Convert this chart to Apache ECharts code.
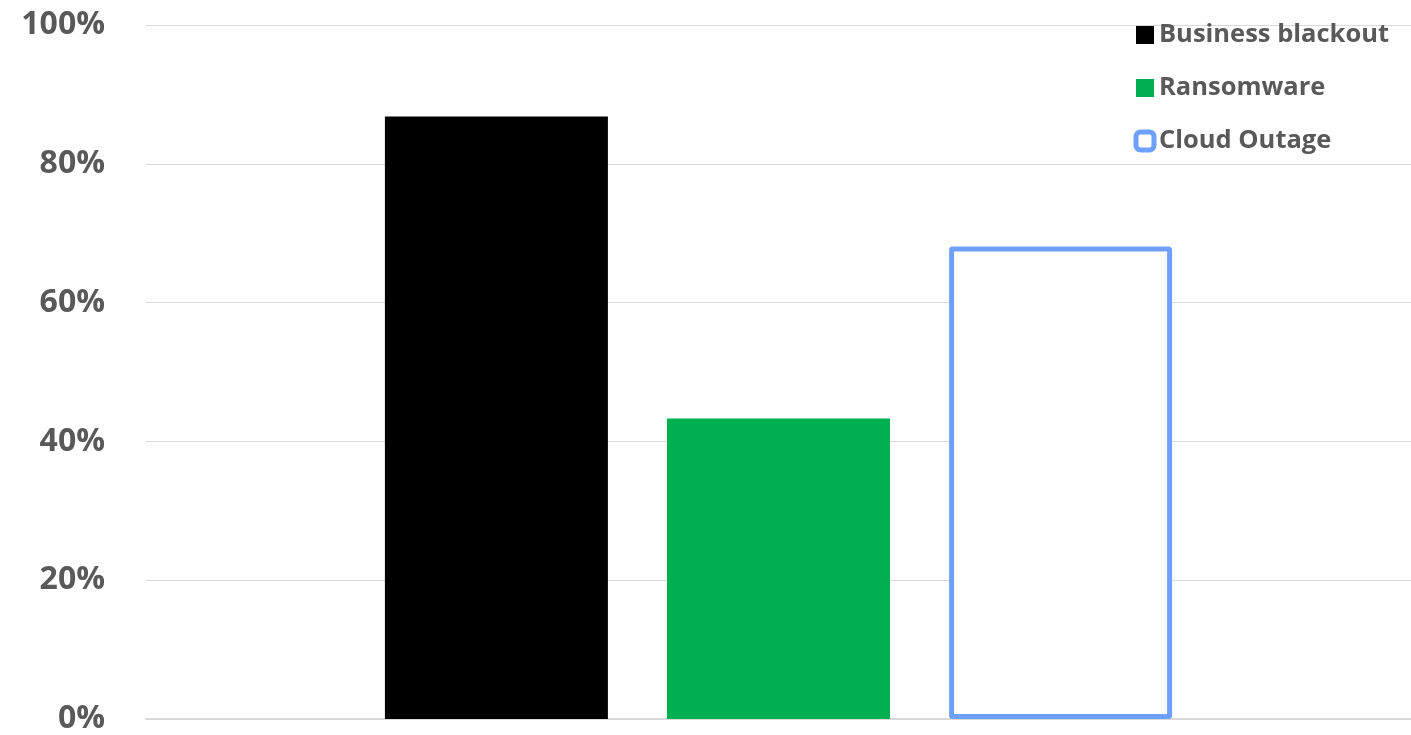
<!DOCTYPE html>
<html><head><meta charset="utf-8">
<script src="https://cdn.jsdelivr.net/npm/echarts@6/dist/echarts.min.js"></script>
<style>html,body{margin:0;padding:0;background:#fff}#c{width:1411px;height:735px}</style>
</head><body><div id="c"></div>
<script>
const categories = [''];
const seriesNames = ['Business blackout', 'Ransomware', 'Cloud Outage'];
const businessBlackout = [86.8];
const ransomware = [43.3];
const cloudOutage = [68.1];
const yTicks = [0, 20, 40, 60, 80, 100];

const chart = echarts.init(document.getElementById('c'));
const font = '"Open Sans", "Liberation Sans", sans-serif';
chart.setOption({
  animation: false,
  grid: {left: 146, right: 0, top: 25, bottom: 15, containLabel: false},
  legend: {
    orient: 'vertical', right: 17, top: 15, align: 'left',
    itemWidth: 18, itemHeight: 18, itemGap: 23,
    textStyle: {color: '#595959', fontWeight: 'bold', fontSize: 25.5, fontFamily: font, lineHeight: 30},
    data: [
      {name: seriesNames[0], icon: 'rect', itemStyle: {color: '#000000', borderWidth: 0}},
      {name: seriesNames[1], icon: 'rect', itemStyle: {color: '#00B050', borderWidth: 0}},
      {name: seriesNames[2], icon: 'roundRect', itemStyle: {color: '#ffffff', borderColor: '#6F9FFF', borderWidth: 5}}
    ]
  },
  xAxis: {
    type: 'category', data: categories,
    axisLine: {show: true, lineStyle: {color: '#d9d9d9', width: 2}},
    axisTick: {show: false}, axisLabel: {show: false}
  },
  yAxis: {
    type: 'value', min: yTicks[0], max: yTicks[yTicks.length - 1], interval: 20,
    axisLine: {show: false}, axisTick: {show: false},
    splitLine: {lineStyle: {color: '#d9d9d9', width: 1}},
    axisLabel: {formatter: '{value}%', color: '#595959', fontWeight: 'bold', fontSize: 32, fontFamily: font, margin: 41}
  },
  series: [
    {name: seriesNames[0], type: 'bar', data: businessBlackout, barWidth: 223, barGap: '26.5%',
      itemStyle: {color: '#000000'}},
    {name: seriesNames[1], type: 'bar', data: ransomware, barWidth: 223, barGap: '26.5%',
      itemStyle: {color: '#00B050'}},
    {name: seriesNames[2], type: 'bar', data: cloudOutage, barWidth: 223, barGap: '26.5%',
      itemStyle: {color: '#ffffff', borderColor: '#6F9FFF', borderWidth: 5, borderRadius: 1}}
  ]
});
</script></body></html>
